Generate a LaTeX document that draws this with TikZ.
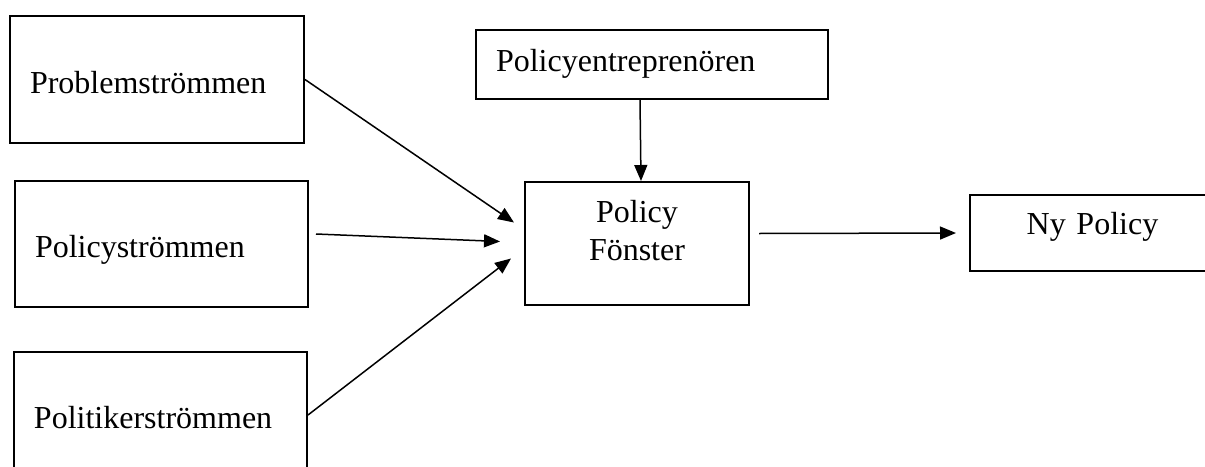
\documentclass[tikz,border=0pt]{standalone}
\usepackage{fontspec}
\setmainfont{Liberation Serif}
\usetikzlibrary{arrows.meta, calc}

\begin{document}
\begin{tikzpicture}[x=1pt, y=-1pt, font=\fontsize{32}{38}\selectfont,
  box/.style={draw, line width=2pt, inner xsep=20pt, align=left, text height=27pt, text depth=0pt},
  arr/.style={-{Triangle[length=16pt,width=13pt]}, line width=1.5pt}]
\clip (0,0) rectangle (1205,466);
% the three streams
\node[box, text width=254pt, minimum height=127pt] (prob) at (157,79.5) {Problemströmmen};
\node[box, text width=253pt, minimum height=126pt] (pstream) at (161.5,244) {Policyströmmen};
\node[box, text width=253pt, minimum height=126pt] (polit) at (160.5,415) {Politikerströmmen};
% entrepreneur, window, result
\node[box, text width=312pt, minimum height=69pt, text height=22pt, text depth=8pt] (entre) at (652,64.5) {Policyentreprenören};
\node[box, align=center, text width=184pt, minimum height=123pt, text height=22pt, text depth=65pt] (fen) at (637,243.5) {Policy\\Fönster};
\node[box, align=center, text width=205pt, minimum height=76pt, text height=22pt, text depth=20pt] (ny) at (1092.5,233) {Ny Policy};

\draw[arr] (prob.east) -- ($(fen.west)+(-10,-21)$);
\draw[arr] ($(pstream.east)+(7,-10)$) -- ($(fen.west)+(-24,-2)$);
\draw[arr] (polit.east) -- ($(fen.west)+(-13,15)$);
\draw[arr] ($(entre.south)+(-12,0)$) -- ($(fen.north)+(4,0)$);
\draw[arr] ($(fen.east)+(9,-10)$) -- ($(ny.west)+(-13,0)$);

\end{tikzpicture}
\end{document}
